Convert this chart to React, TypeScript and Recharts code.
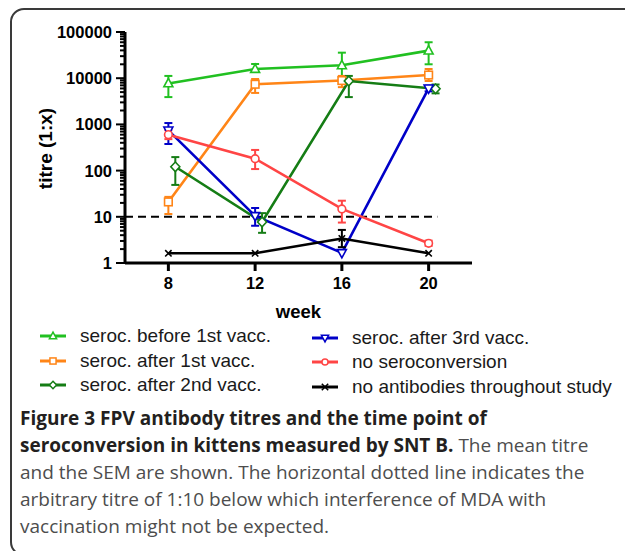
import React from 'react';
import { LineChart, Line, XAxis, YAxis, ErrorBar, ReferenceLine, Legend } from 'recharts';

// ---------- data ----------
const weeks = [8, 12, 16, 20];
const xTicks = [8, 12, 16, 20];
const yTicks = [1, 2, 3, 4, 5, 6, 7, 8, 9, 10, 20, 30, 40, 50, 60, 70, 80, 90, 100, 200, 300, 400, 500, 600, 700, 800, 900, 1000, 2000, 3000, 4000, 5000, 6000, 7000, 8000, 9000, 10000, 20000, 30000, 40000, 50000, 60000, 70000, 80000, 90000, 100000];
const threshold = 10;

const beforeFirstMean = [7700, 15800, 19000, 39500];
const beforeFirstLow = [3900, 13600, 10600, 20000];
const beforeFirstHigh = [11200, 20300, 35700, 60000];

const afterFirstMean = [21, 7400, 8900, 11700];
const afterFirstLow = [11.5, 4800, 6400, 8700];
const afterFirstHigh = [27, 9600, 11200, 15800];

const afterSecondMean = [121, 7.7, 8700, 5900];
const afterSecondLow = [49, 4.5, 3900, 4700];
const afterSecondHigh = [196, 12, 11200, 7300];

const afterThirdMean = [740, 10.4, 1.65, 6000];
const afterThirdLow = [377, 6.4, null, 5200];
const afterThirdHigh = [1070, 15.5, null, 6900];

const noSeroMean = [600, 181, 14.8, 2.67];
const noSeroLow = [480, 108, 7.5, 2.35];
const noSeroHigh = [750, 280, 22.3, 3.05];

const noAbMean = [1.62, 1.62, 3.4, 1.62];
const noAbLow = [null, null, 2.2, null];
const noAbHigh = [null, null, 5.2, null];

const seriesNames = [
  'seroc. before 1st vacc.',
  'seroc. after 1st vacc.',
  'seroc. after 2nd vacc.',
  'seroc. after 3rd vacc.',
  'no seroconversion',
  'no antibodies throughout study',
];

// ---------- styles ----------
const FONT = '"Liberation Sans", Arial, sans-serif';
const seriesStyles = [
  { color: '#21c021', shape: 'triangle', shift: 0 },
  { color: '#ff8517', shape: 'square', shift: 0 },
  { color: '#157d15', shape: 'diamond', shift: 0.32 },
  { color: '#0000c8', shape: 'triangleDown', shift: 0 },
  { color: '#ff4545', shape: 'circle', shift: 0 },
  { color: '#000000', shape: 'cross', shift: 0 },
];
const seriesValues = [
  [beforeFirstMean, beforeFirstLow, beforeFirstHigh],
  [afterFirstMean, afterFirstLow, afterFirstHigh],
  [afterSecondMean, afterSecondLow, afterSecondHigh],
  [afterThirdMean, afterThirdLow, afterThirdHigh],
  [noSeroMean, noSeroLow, noSeroHigh],
  [noAbMean, noAbLow, noAbHigh],
];

const series = seriesNames.map((name, s) => {
  const [mean, low, high] = seriesValues[s];
  const st = seriesStyles[s];
  return {
    name,
    ...st,
    data: weeks.map((w, i) => ({
      week: w + st.shift,
      value: mean[i],
      err: low[i] == null || high[i] == null ? null : [mean[i] - (low[i] as number), (high[i] as number) - mean[i]],
    })),
  };
});

function Marker({ cx, cy, shape, color, r = 4.5, sw = 1.6 }: any) {
  if (cx == null || cy == null) return null;
  const common = { stroke: color, strokeWidth: sw, fill: '#ffffff' };
  switch (shape) {
    case 'triangle':
      return <polygon points={`${cx},${cy - r * 1.1} ${cx - r},${cy + r * 0.75} ${cx + r},${cy + r * 0.75}`} {...common} />;
    case 'triangleDown':
      return <polygon points={`${cx},${cy + r * 1.1} ${cx - r},${cy - r * 0.75} ${cx + r},${cy - r * 0.75}`} {...common} />;
    case 'square':
      return <rect x={cx - r * 0.85} y={cy - r * 0.85} width={r * 1.7} height={r * 1.7} {...common} />;
    case 'diamond':
      return <polygon points={`${cx},${cy - r * 1.05} ${cx + r},${cy} ${cx},${cy + r * 1.05} ${cx - r},${cy}`} {...common} />;
    case 'circle':
      return <circle cx={cx} cy={cy} r={r * 0.85} {...common} />;
    case 'cross':
      return (
        <g stroke={color} strokeWidth={sw}>
          <line x1={cx - 3.2} y1={cy - 3.2} x2={cx + 3.2} y2={cy + 3.2} />
          <line x1={cx - 3.2} y1={cy + 3.2} x2={cx + 3.2} y2={cy - 3.2} />
        </g>
      );
    default:
      return null;
  }
}

function YTick(props: any) {
  const { x, y, payload } = props;
  const v = payload.value;
  const lg = Math.log10(v);
  const major = Math.abs(lg - Math.round(lg)) < 1e-9;
  const len = major ? 9 : 5;
  return (
    <g>
      <line x1={x - len} y1={y} x2={x} y2={y} stroke="#000" strokeWidth={2} />
      {major && (
        <text x={x - 13} y={y} textAnchor="end" dominantBaseline="central" fontFamily={FONT} fontWeight="bold" fontSize={16.5} fill="#000">
          {String(v)}
        </text>
      )}
    </g>
  );
}

function XTick(props: any) {
  const { x, y, payload } = props;
  return (
    <g>
      <line x1={x} y1={y} x2={x} y2={y + 8} stroke="#000" strokeWidth={3} />
      <text x={x} y={y + 20} textAnchor="middle" dominantBaseline="central" fontFamily={FONT} fontWeight="bold" fontSize={16.5} fill="#000">
        {String(payload.value)}
      </text>
    </g>
  );
}

const legendCols = [
  { iconX: 40, textX: 80, rows: [336, 361, 385] },
  { iconX: 312, textX: 352, rows: [338, 362, 387] },
];
const LEGEND_TOP = 300;

function LegendBox() {
  return (
    <div style={{ position: 'relative', width: 625, height: 100 }}>
      {series.map((s, i) => {
        const col = legendCols[i < 3 ? 0 : 1];
        const rowY = col.rows[i % 3] - LEGEND_TOP;
        return (
          <React.Fragment key={s.name}>
            <svg width={28} height={14} style={{ position: 'absolute', left: col.iconX - 1, top: rowY - 7 }}>
              <line x1={1} y1={7} x2={27} y2={7} stroke={s.color} strokeWidth={3} />
              <Marker cx={14} cy={7} shape={s.shape} color={s.color} r={3.6} sw={1.5} />
            </svg>
            <div
              style={{
                position: 'absolute',
                left: col.textX,
                top: rowY - 12,
                height: 24,
                lineHeight: '24px',
                whiteSpace: 'nowrap',
                fontFamily: FONT,
                fontSize: 19,
                color: '#1a1a1a',
              }}
            >
              {s.name}
            </div>
          </React.Fragment>
        );
      })}
    </div>
  );
}

export default function App() {
  return (
    <div style={{ position: 'absolute', left: 0, top: 0, width: 625, height: 551, overflow: 'hidden', background: '#fff' }}>
      <div
        style={{
          position: 'absolute',
          left: 10,
          top: 8,
          width: 700,
          height: 544,
          border: '2px solid #3a3a3a',
          borderRadius: 14,
        }}
      />
      <div style={{ position: 'absolute', left: 0, top: 0 }}>
        <LineChart width={625} height={400} margin={{ top: 32, right: 153, bottom: 77, left: 0 }}>
          <XAxis
            type="number"
            dataKey="week"
            domain={[6, 22]}
            ticks={xTicks}
            interval={0}
            allowDataOverflow
            height={60}
            tickSize={0}
            tickMargin={0}
            tickLine={false}
            tick={<XTick />}
            axisLine={{ stroke: '#000', strokeWidth: 3 }}
            label={{
              content: (p: any) => {
                const vb = p.viewBox || { x: 125, y: 263, width: 347 };
                return (
                  <text x={vb.x + vb.width / 2} y={vb.y + 48} textAnchor="middle" dominantBaseline="central" fontFamily={FONT} fontWeight="bold" fontSize={18.5} fill="#000">
                    week
                  </text>
                );
              },
            }}
          />
          <YAxis
            type="number"
            scale="log"
            domain={[1, 100000]}
            ticks={yTicks}
            interval={0}
            allowDataOverflow
            width={125}
            tickSize={0}
            tickMargin={0}
            tickLine={false}
            tick={<YTick />}
            axisLine={{ stroke: '#000', strokeWidth: 3 }}
            label={{
              content: (p: any) => {
                const vb = p.viewBox || { x: 0, y: 32, width: 125, height: 231 };
                const cx = 45;
                const cy = vb.y + vb.height / 2 + 1;
                return (
                  <text x={cx} y={cy} transform={`rotate(-90 ${cx} ${cy})`} textAnchor="middle" dominantBaseline="central" fontFamily={FONT} fontWeight="bold" fontSize={19} fill="#000">
                    titre (1:x)
                  </text>
                );
              },
            }}
          />
          <ReferenceLine
            segment={[
              { x: 6, y: threshold },
              { x: 20.4, y: threshold },
            ]}
            stroke="#000"
            strokeWidth={2}
            strokeDasharray="8 5"
            ifOverflow="extendDomain"
          />
          {series.map((s) => (
            <Line
              key={s.name}
              name={s.name}
              data={s.data}
              dataKey="value"
              type="linear"
              stroke={s.color}
              strokeWidth={2.6}
              isAnimationActive={false}
              activeDot={false}
              dot={(p: any) => (
                <g key={`${s.name}-${p.index}`}>
                  <Marker cx={p.cx} cy={p.cy} shape={s.shape} color={s.color} />
                </g>
              )}
            >
              <ErrorBar dataKey="err" direction="y" width={4} stroke={s.color} strokeWidth={2} isAnimationActive={false} />
            </Line>
          ))}
          <Legend
            layout="horizontal"
            verticalAlign="middle"
            align="center"
            wrapperStyle={{ left: 0, top: LEGEND_TOP, width: 625, height: 100 }}
            content={() => <LegendBox />}
          />
        </LineChart>
      </div>
      <div
        style={{
          position: 'absolute',
          left: 20,
          top: 405,
          width: 610,
          fontFamily: '"Open Sans", sans-serif',
          fontSize: 19,
          lineHeight: '27px',
          color: '#4d4d4d',
          whiteSpace: 'nowrap',
        }}
      >
        <span style={{ fontWeight: 'bold', color: '#231f20' }}>Figure 3 FPV antibody titres and the time point of</span>
        <br />
        <span style={{ fontWeight: 'bold', color: '#231f20' }}>seroconversion in kittens measured by SNT B.</span> The mean titre
        <br />
        and the SEM are shown. The horizontal dotted line indicates the
        <br />
        arbitrary titre of 1:10 below which interference of MDA with
        <br />
        vaccination might not be expected.
      </div>
    </div>
  );
}
